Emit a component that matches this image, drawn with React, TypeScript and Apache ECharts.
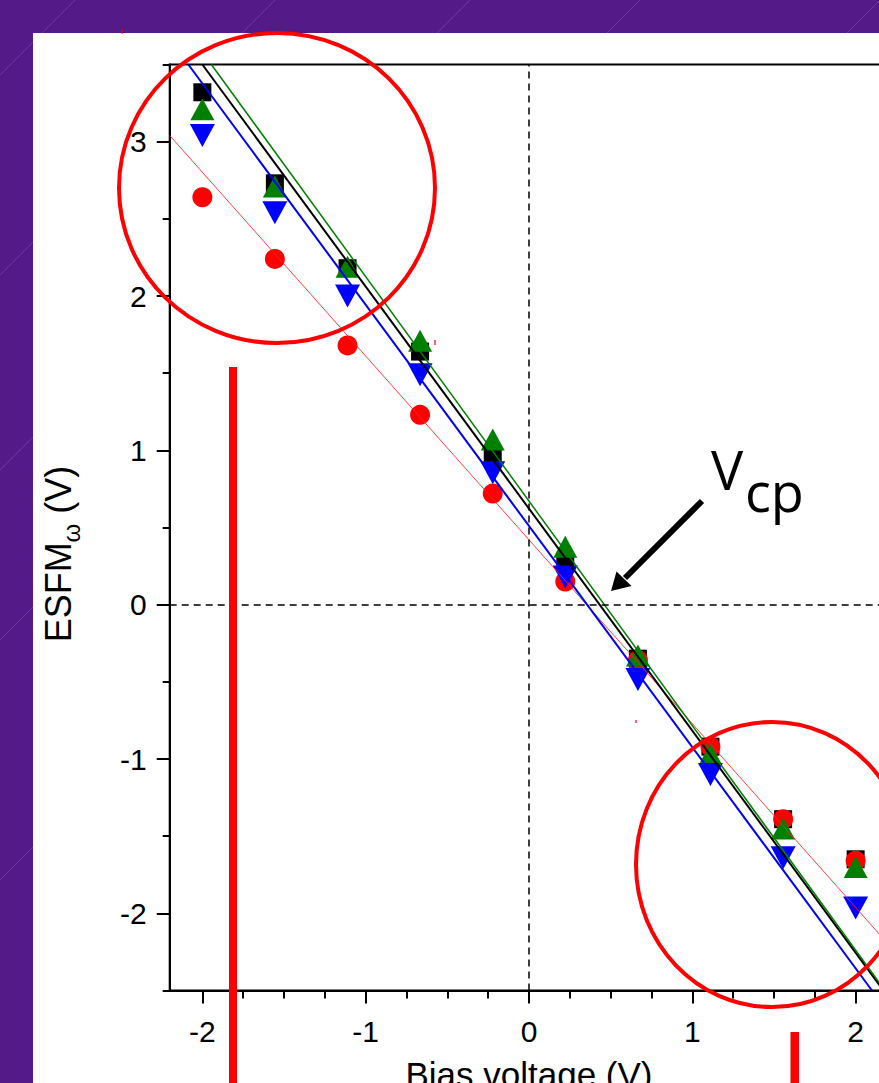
import { useEffect, useRef } from 'react';
import * as echarts from 'echarts';

// Bias voltage (V) of the measured points
const BIAS_V = [-2, -1.556, -1.111, -0.667, -0.222, 0.222, 0.667, 1.111, 1.556, 2];
// ESFM_omega (V) for each sample series
const SQUARE_BLACK = [3.32, 2.73, 2.18, 1.64, 0.96, 0.27, -0.35, -0.92, -1.39, -1.65];
const CIRCLE_RED = [2.64, 2.24, 1.68, 1.23, 0.72, 0.15, -0.36, -0.92, -1.39, -1.66];
const TRIANGLE_GREEN = [3.21, 2.71, 2.19, 1.71, 1.07, 0.375, -0.33, -0.97, -1.45, -1.7];
const TRIANGLE_BLUE = [3.04, 2.54, 2.0, 1.49, 0.855, 0.18, -0.485, -1.1, -1.64, -1.965];
// Linear fit end points [x, y]
const FIT_BLACK = [[-2.0, 3.5], [2.17, -2.5]];
const FIT_GREEN = [[-1.945, 3.5], [2.18, -2.5]];
const FIT_BLUE = [[-2.086, 3.5], [2.1, -2.5]];
const FIT_RED = [[-2.2, 3.04], [2.2, -2.2]];
// Axis ticks
const X_MAJOR = [-2, -1, 0, 1, 2];
const X_MINOR = [-1.75, -1.5, -1.25, -0.75, -0.5, -0.25, 0.25, 0.5, 0.75, 1.25, 1.5, 1.75];
const Y_MAJOR = [-2, -1, 0, 1, 2, 3];
const Y_MINOR = [-2.5, -1.5, -0.5, 0.5, 1.5, 2.5, 3.5];
// Background diagonal line intercepts (x + y = c)
const DIAG = [75, 275, 470, 640, 880, 1120];

const AXIS_FONT = '"Liberation Sans", Arial, sans-serif';

export default function App() {
  const ref = useRef<HTMLDivElement>(null);
  useEffect(() => {
    document.body.style.margin = '0';
    const chart = echarts.init(ref.current!, null, { renderer: 'svg' });
    const pts = (ys: number[]) => BIAS_V.map((x, i) => [x, ys[i]]);
    const tickStyle = { color: '#000', width: 2 };
    const xBase = {
      type: 'value', min: -2.2, max: 2.2, position: 'bottom',
      splitLine: { show: false },
    };
    const yBase = {
      type: 'value', min: -2.5, max: 3.5, position: 'left',
      splitLine: { show: false },
    };
    chart.setOption({
      animation: false,
      grid: {
        left: 169.7, right: 900 - 888.3, top: 64.5, bottom: 1083 - 990.5,
        show: true, borderColor: '#000', borderWidth: 2,
        containLabel: false, outerBoundsMode: 'none',
      },
      xAxis: [
        {
          ...xBase,
          axisLine: { show: true, onZero: false, lineStyle: tickStyle },
          axisTick: { show: true, length: 13, lineStyle: tickStyle, customValues: X_MAJOR },
          axisLabel: { show: true, customValues: X_MAJOR, margin: 26, fontSize: 30, color: '#000', fontFamily: AXIS_FONT },
          name: 'Bias voltage (V)', nameLocation: 'middle', nameGap: 66,
          nameTextStyle: { fontSize: 35, color: '#000', fontFamily: AXIS_FONT },
        },
        {
          ...xBase,
          axisLine: { show: false, onZero: false },
          axisTick: { show: true, length: 8, lineStyle: tickStyle, customValues: X_MINOR },
          axisLabel: { show: false },
        },
      ],
      yAxis: [
        {
          ...yBase,
          axisLine: { show: true, onZero: false, lineStyle: tickStyle },
          axisTick: { show: true, length: 13, lineStyle: tickStyle, customValues: Y_MAJOR },
          axisLabel: { show: true, customValues: Y_MAJOR, margin: 23, fontSize: 30, color: '#000', fontFamily: AXIS_FONT },
        },
        {
          ...yBase,
          axisLine: { show: false, onZero: false },
          axisTick: { show: true, length: 7, lineStyle: tickStyle, customValues: Y_MINOR },
          axisLabel: { show: false },
        },
      ],
      series: [
        {
          type: 'scatter', data: pts(SQUARE_BLACK), symbol: 'rect', symbolSize: 18,
          itemStyle: { color: '#000', opacity: 1 },
          markLine: {
            silent: true, symbol: ['none', 'none'], label: { show: false },
            lineStyle: { color: '#000', width: 1.5, type: [7, 5] },
            data: [{ xAxis: 0 }, { yAxis: 0 }],
          },
        },
        { type: 'scatter', data: pts(CIRCLE_RED), symbol: 'circle', symbolSize: 20, itemStyle: { color: '#ff0000', opacity: 1 } },
        { type: 'scatter', data: pts(TRIANGLE_GREEN), symbol: 'triangle', symbolSize: [24, 22], itemStyle: { color: '#008000', opacity: 1 } },
        { type: 'scatter', data: pts(TRIANGLE_BLUE), symbol: 'triangle', symbolRotate: 180, symbolSize: [25, 23], itemStyle: { color: '#0000ff', opacity: 1 } },
        { type: 'line', data: FIT_RED, showSymbol: false, symbol: 'none', lineStyle: { color: '#ff2020', width: 1, opacity: 0.85 } },
        { type: 'line', data: FIT_BLUE, showSymbol: false, symbol: 'none', lineStyle: { color: '#0000ff', width: 2 } },
        { type: 'line', data: FIT_BLACK, showSymbol: false, symbol: 'none', lineStyle: { color: '#000', width: 2 } },
        { type: 'line', data: FIT_GREEN, showSymbol: false, symbol: 'none', lineStyle: { color: '#008000', width: 1.5 } },
      ],
      graphic: [
        { type: 'rect', z: -100, shape: { x: 0, y: 0, width: 900, height: 1083 }, style: { fill: '#541b88' } },
        ...DIAG.map((c) => ({
          type: 'line', z: -99, shape: { x1: 0, y1: c, x2: c, y2: 0 },
          style: { stroke: 'rgba(255,255,255,0.13)', lineWidth: 1 },
        })),
        { type: 'rect', z: -98, shape: { x: 33, y: 33, width: 900, height: 1100 }, style: { fill: '#ffffff' } },
        {
          type: 'text', x: 58.7, y: 554, rotation: Math.PI / 2,
          style: {
            text: '{a|ESFM}{b|ω}{a| (V)}', align: 'center', verticalAlign: 'middle',
            rich: {
              a: { fontSize: 36, fontFamily: AXIS_FONT, fill: '#000', color: '#000', lineHeight: 50 },
              b: { fontSize: 24, fontFamily: AXIS_FONT, fill: '#000', color: '#000', lineHeight: 24, verticalAlign: 'bottom' },
            },
          },
        },
        { type: 'text', z: 100, x: 711, y: 469, style: { text: 'V', fontSize: 54, fontFamily: '"Open Sans", sans-serif', fill: '#000', align: 'left', verticalAlign: 'middle' } },
        { type: 'text', z: 100, x: 745, y: 491, style: { text: 'cp', fontSize: 54, fontFamily: '"Open Sans", sans-serif', fill: '#000', align: 'left', verticalAlign: 'middle' } },
        { type: 'line', z: 100, shape: { x1: 702, y1: 501, x2: 625, y2: 578 }, style: { stroke: '#000', lineWidth: 6 } },
        { type: 'polygon', z: 100, shape: { points: [[611, 591], [616.5, 571.5], [631.5, 586]] }, style: { fill: '#000' } },
        { type: 'ellipse', z: 100, shape: { cx: 277, cy: 188, rx: 158, ry: 155 }, style: { fill: 'none', stroke: '#ff0000', lineWidth: 4 } },
        { type: 'ellipse', z: 100, shape: { cx: 772, cy: 864.5, rx: 136, ry: 142.5 }, style: { fill: 'none', stroke: '#ff0000', lineWidth: 4 } },
        { type: 'rect', z: 100, shape: { x: 229, y: 367, width: 8, height: 716 }, style: { fill: '#ff0000' } },
        { type: 'rect', z: 100, shape: { x: 790.5, y: 1032, width: 8.5, height: 51 }, style: { fill: '#ff0000' } },
        { type: 'rect', z: 100, shape: { x: 121.5, y: 29, width: 1.5, height: 5 }, style: { fill: 'rgba(255,0,0,0.6)' } },
        { type: 'rect', z: 100, shape: { x: 635, y: 720, width: 2, height: 3 }, style: { fill: 'rgba(255,0,0,0.6)' } },
        { type: 'rect', z: 100, shape: { x: 434, y: 340, width: 2, height: 5 }, style: { fill: 'rgba(255,0,0,0.6)' } },
      ],
    });
    return () => chart.dispose();
  }, []);
  return (
    <div style={{ position: 'fixed', left: 0, top: 0, width: 879, height: 1083, overflow: 'hidden', background: '#541b88' }}>
      <div ref={ref} style={{ width: 900, height: 1083 }} />
    </div>
  );
}
